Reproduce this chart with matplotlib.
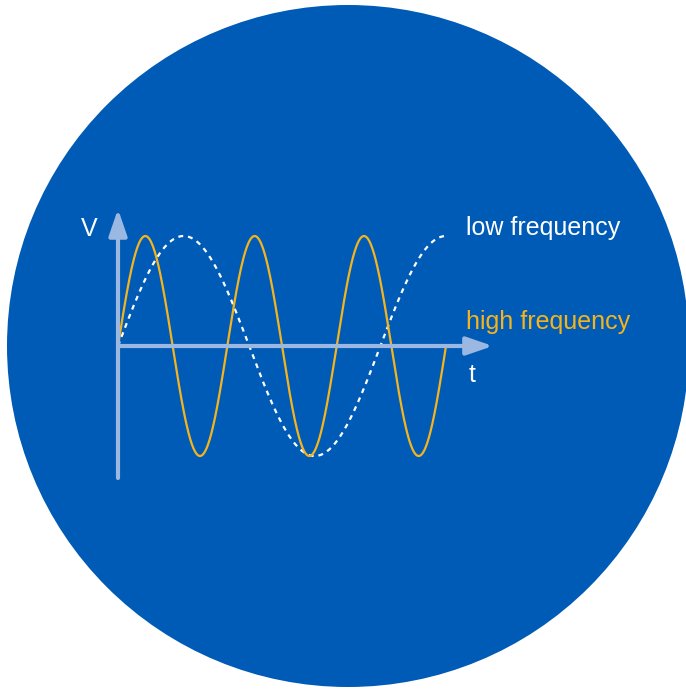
import numpy as np
import matplotlib.pyplot as plt
from matplotlib.patches import Circle

plt.rcParams['font.family'] = ['Liberation Sans', 'DejaVu Sans']

# wave settings: number of cycles over the drawn time span
t = np.linspace(0, 1, 600)
cycles_high = 3.0
cycles_low = 1.25
amplitude = 1.0

v_high = amplitude * np.sin(2 * np.pi * cycles_high * t)
v_low = amplitude * np.sin(2 * np.pi * cycles_low * t)

labels = ["low frequency", "high frequency"]
axis_labels = ["V", "t"]

blue = "#005BB6"
orange = "#F5B41E"
axis_col = "#9BB8E2"

W, H = 686, 689
fig = plt.figure(figsize=(W / 100, H / 100), dpi=100)

# background in pixel coordinates
bg = fig.add_axes([0, 0, 1, 1])
bg.set_xlim(0, W)
bg.set_ylim(H, 0)
bg.axis("off")
bg.add_patch(Circle((348, 346), 341, color=blue, lw=0))

# plotting area: t 0..1 -> x 118..446 px, V -1..1 -> y 456..236 px
x0, x1, y_top, y_bot = 118, 446, 236, 456
ax = fig.add_axes([x0 / W, 1 - y_bot / H, (x1 - x0) / W, (y_bot - y_top) / H])
ax.set_xlim(0, 1)
ax.set_ylim(-1, 1)
ax.axis("off")

arrow = dict(arrowstyle="-|>,head_length=1.6,head_width=0.55", lw=3,
             color=axis_col, shrinkA=0, shrinkB=0)
ax.annotate("", xy=(1.143, 0), xytext=(0, 0), arrowprops=arrow, annotation_clip=False)
ax.annotate("", xy=(0, 1.245), xytext=(0, -1.2), arrowprops=arrow, annotation_clip=False)

ax.plot(t, v_low, color="white", lw=1.6, ls=(0, (2.2, 2.2)), clip_on=False)
ax.plot(t, v_high, color=orange, lw=1.6, clip_on=False)

bg.text(466, 235, labels[0], color="white", fontsize=18, va="baseline")
bg.text(466, 329, labels[1], color=orange, fontsize=18, va="baseline")
bg.text(81, 236, axis_labels[0], color="white", fontsize=18, va="baseline")
bg.text(469, 382, axis_labels[1], color="white", fontsize=18, va="baseline")

fig.savefig("out.png", dpi=100, facecolor="white")
